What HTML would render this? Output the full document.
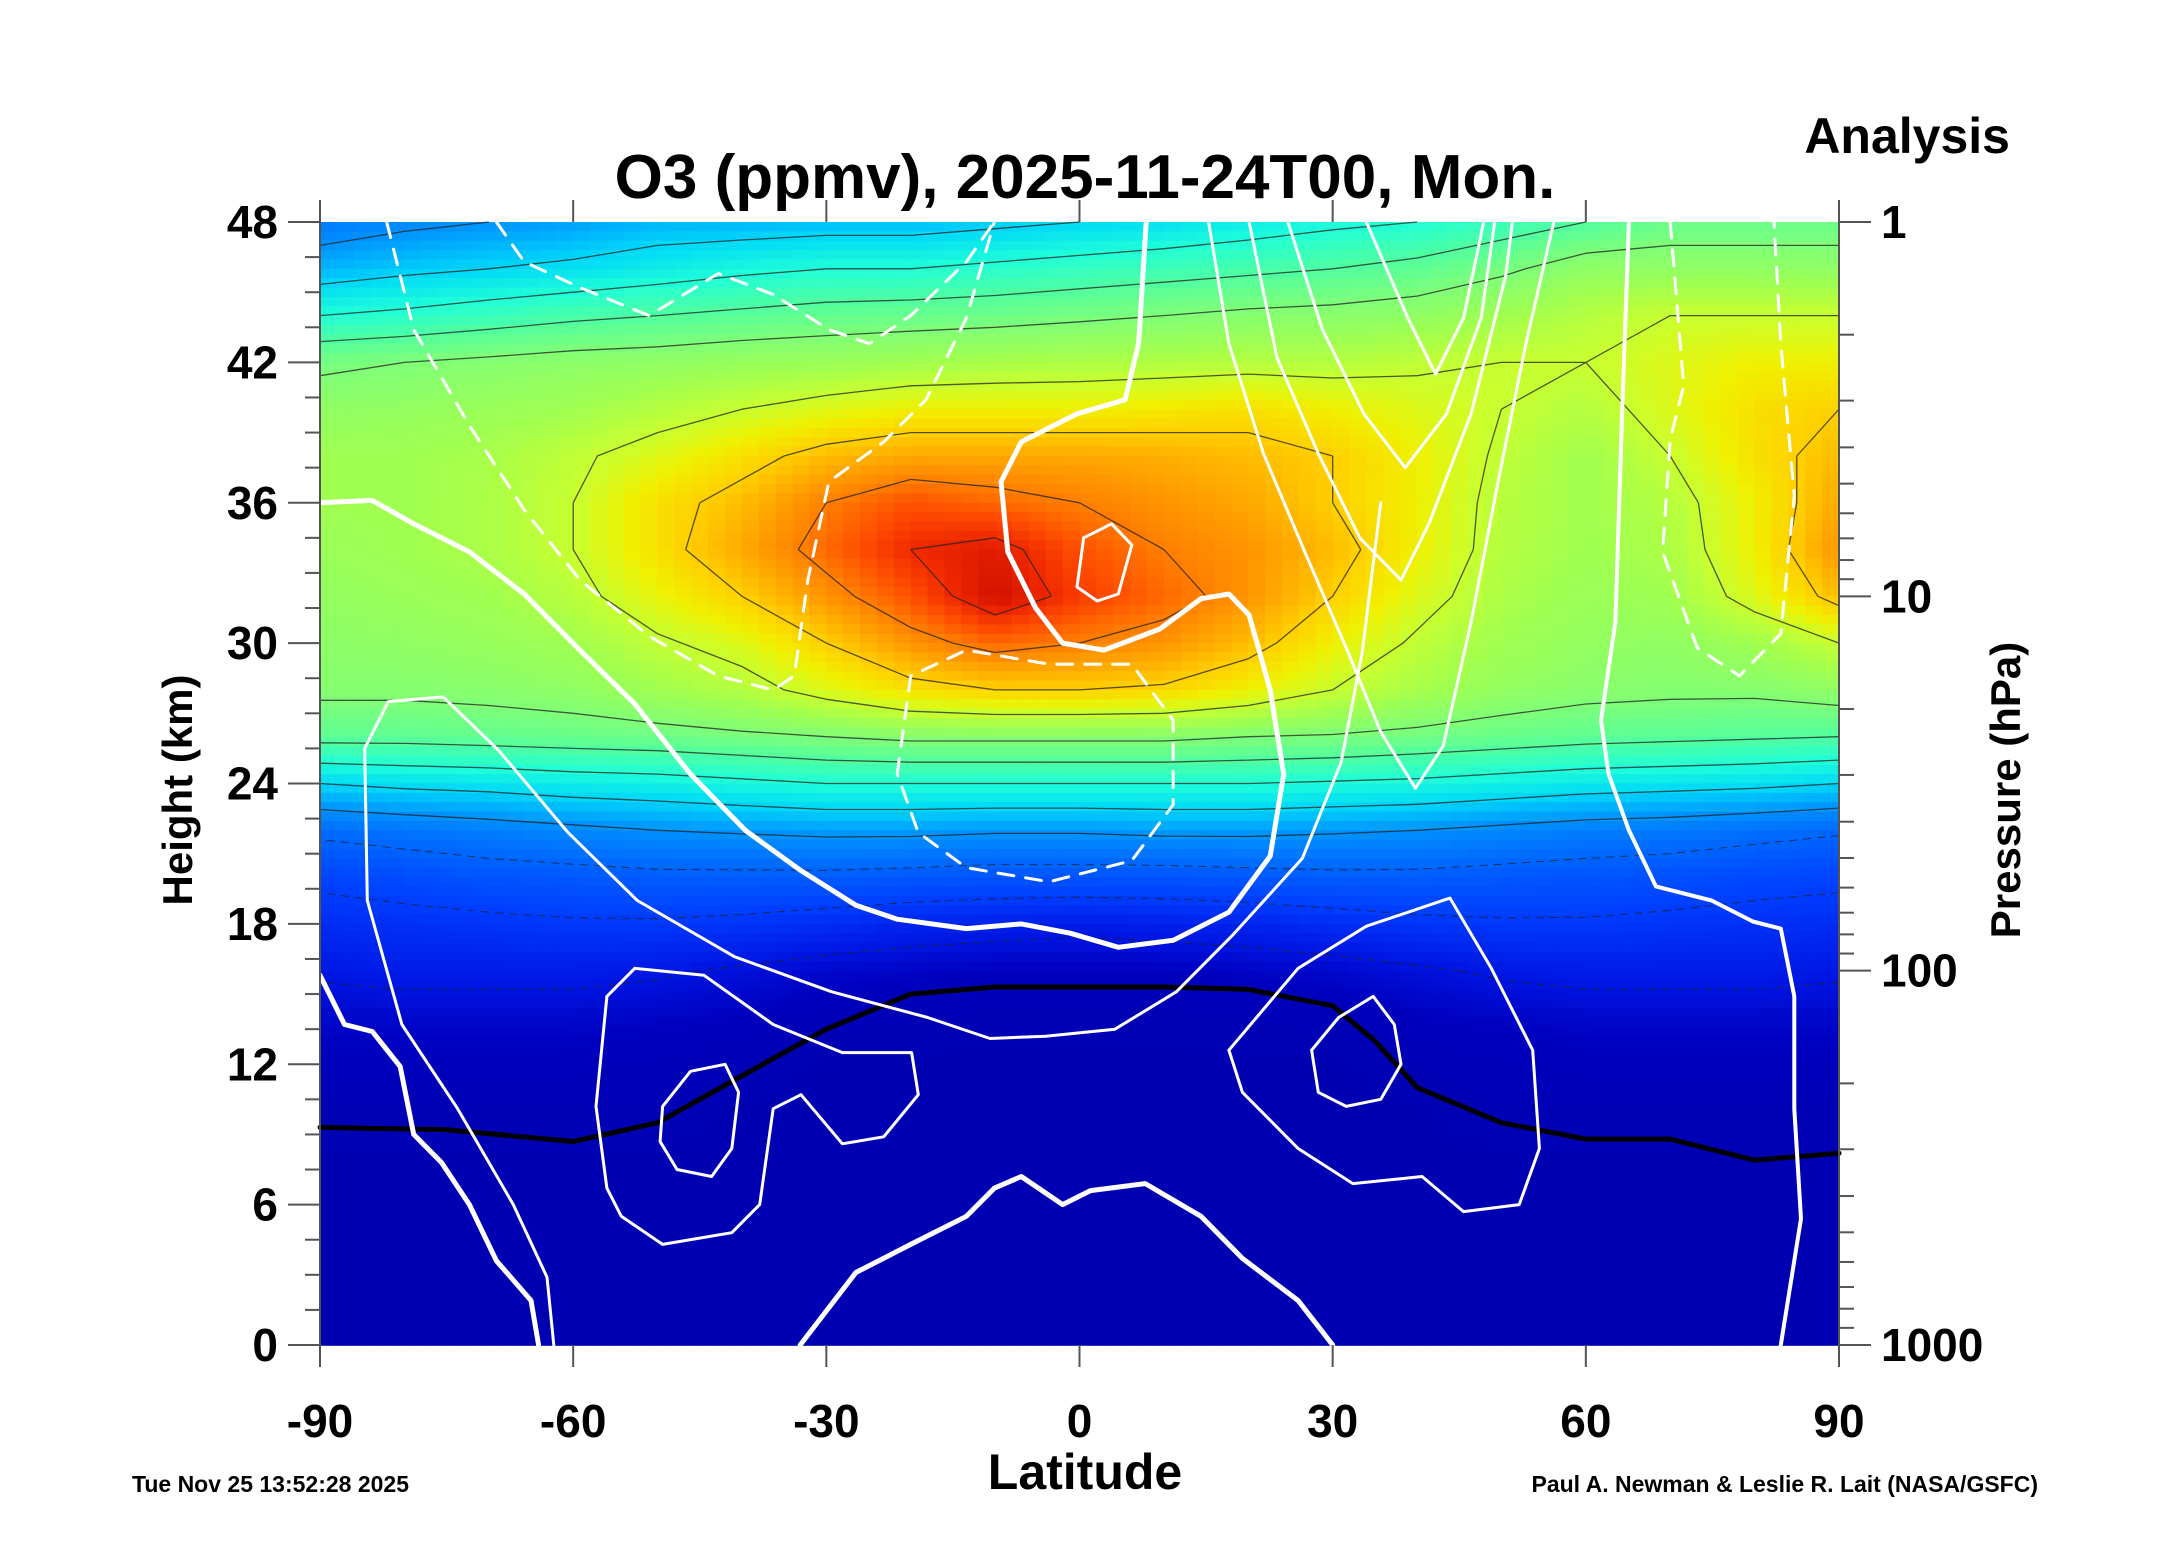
<!DOCTYPE html>
<html><head><meta charset="utf-8"><style>
html,body{margin:0;padding:0;background:#fff;}
svg{display:block;font-family:"Liberation Sans",Arial,sans-serif;font-weight:bold;}
</style></head><body>
<svg id="chart" width="2165" height="1561" viewBox="0 0 2165 1561" xmlns="http://www.w3.org/2000/svg">
<rect width="2165" height="1561" fill="#fff"/>
<g id="field"></g>
<g id="ozcont"></g>
<g id="tropo"></g>
<g id="winds"></g>
<g id="axes"></g>
<text x="1085" y="198" font-size="62" text-anchor="middle">O3 (ppmv), 2025-11-24T00, Mon.</text>
<text x="2010" y="153" font-size="50" text-anchor="end">Analysis</text>
<text x="1085" y="1489" font-size="50" text-anchor="middle">Latitude</text>
<text transform="translate(192,790) rotate(-90)" font-size="42" text-anchor="middle">Height (km)</text>
<text transform="translate(2020,790) rotate(-90)" font-size="42" text-anchor="middle">Pressure (hPa)</text>
<text x="132" y="1492" font-size="23">Tue Nov 25 13:52:28 2025</text>
<text x="2038" y="1492" font-size="23" text-anchor="end">Paul A. Newman &amp; Leslie R. Lait (NASA/GSFC)</text>
</svg>
<script>
const lats=[-90,-80,-70,-60,-50,-40,-30,-20,-10,0,10,20,30,40,50,60,70,80,90];
const heights=[48,46,44,42,40,38,36,34,32,30,28,26,24,22,20,18,16,14,12,10,8,6,4,2,0];
const ozone=[
[3.5,3.8,4,4.2,4.5,4.5,4.6,4.6,4.8,5,5.2,5.5,5.8,6,6.5,7,7.5,7.5,7.5],
[4.5,4.8,5,5.2,5.5,5.8,6,6,6.2,6.4,6.6,6.8,7,7.3,7.8,8.5,8.5,8.5,8.5],
[6,6.2,6.5,6.8,7,7.2,7.4,7.5,7.6,7.8,8,8.2,8.3,8.5,9,9.5,10,10,10],
[7.8,8,8.2,8.4,8.5,8.7,8.8,9,9.2,9.3,9.4,9.5,9.5,9.8,10,10,10.5,11,11],
[8.5,8.6,8.8,9,9.5,10,10.5,11,11,11,11.2,11.5,11,10.5,10,9.5,10.5,11.5,12],
[9,9,9.2,9.8,10.5,11.5,12.5,13,13,13,12.8,12.5,12,11,9.8,9,10,11.5,12.5],
[9,9,9.3,10,11.5,12.5,14,15,14.5,14,13.5,13,12,11,9.6,9,9.5,11,13],
[8.8,9,9.3,10,11.5,13,14.5,16,16.5,15,14,13.5,12.5,11,9.5,9,9.3,11,13.5],
[8.6,8.8,9,9.6,10.8,12,13.5,15,17,15.5,14.5,13.5,12,10.5,9.3,8.8,9,10.5,12.5],
[8.4,8.5,8.7,9,9.8,10.5,12,13.5,14.5,14,13.5,12.5,11,9.8,9,8.6,8.5,9,10],
[8.2,8.2,8.3,8.5,9,9.5,10.5,11.5,12,12,11.8,11,10,9.2,8.6,8.3,8.2,8.2,8.5],
[7.3,7.3,7.4,7.5,7.6,7.8,8,8.2,8.2,8.2,8.2,8,7.9,7.7,7.5,7.3,7.2,7.1,7],
[5,5.2,5.3,5.5,5.6,5.8,6,6,6,6,6,6,5.9,5.8,5.6,5.4,5.3,5.2,5],
[3.2,3.4,3.6,3.8,4,4.1,4.2,4.2,4.1,4.1,4.2,4.2,4.1,4,3.8,3.6,3.5,3.3,3.1],
[2.2,2.4,2.6,2.7,2.8,2.8,2.8,2.7,2.6,2.6,2.6,2.7,2.8,2.8,2.7,2.6,2.5,2.3,2.2],
[1.6,1.7,1.8,1.9,1.9,1.8,1.6,1.4,1.3,1.2,1.3,1.4,1.6,1.8,1.9,1.9,1.8,1.7,1.6],
[1.1,1.2,1.2,1.2,1.1,0.9,0.7,0.6,0.5,0.5,0.5,0.6,0.7,0.9,1.1,1.2,1.2,1.2,1.1],
[0.7,0.7,0.7,0.7,0.6,0.5,0.3,0.2,0.15,0.15,0.15,0.2,0.3,0.5,0.6,0.7,0.7,0.7,0.7],
[0.4,0.4,0.4,0.4,0.3,0.2,0.1,0.1,0.1,0.1,0.1,0.1,0.1,0.2,0.3,0.4,0.4,0.4,0.4],
[0.2,0.2,0.2,0.2,0.2,0.1,0.1,0.1,0.1,0.1,0.1,0.1,0.1,0.1,0.2,0.2,0.2,0.2,0.2],
[0.1,0.1,0.1,0.1,0.1,0.1,0.1,0.1,0.1,0.1,0.1,0.1,0.1,0.1,0.1,0.1,0.1,0.1,0.1],
[0.1,0.1,0.1,0.1,0.1,0.1,0.1,0.1,0.1,0.1,0.1,0.1,0.1,0.1,0.1,0.1,0.1,0.1,0.1],
[0.1,0.1,0.1,0.1,0.1,0.1,0.1,0.1,0.1,0.1,0.1,0.1,0.1,0.1,0.1,0.1,0.1,0.1,0.1],
[0.1,0.1,0.1,0.1,0.1,0.1,0.1,0.1,0.1,0.1,0.1,0.1,0.1,0.1,0.1,0.1,0.1,0.1,0.1],
[0.1,0.1,0.1,0.1,0.1,0.1,0.1,0.1,0.1,0.1,0.1,0.1,0.1,0.1,0.1,0.1,0.1,0.1,0.1]];
const contourLevels=[1,2,3,4,5,6,7,8,10,12,14,16];
const tropoLats=[-90,-75,-60,-50,-40,-30,-20,-10,0,10,20,30,35,40,50,60,70,80,90];
const tropoHeights=[9.3,9.2,8.7,9.5,11.5,13.5,15,15.3,15.3,15.3,15.2,14.5,13,11,9.5,8.8,8.8,7.9,8.2];
const wind0Main=[[-90,36],[-83.8,36.1],[-78.9,35.1],[-72.3,33.9],[-65.8,32.1],[-59.2,29.7],[-52.7,27.4],[-46.1,24.4],[-39.6,22],[-33.1,20.3],[-26.5,18.8],[-21.6,18.2],[-13.4,17.8],[-6.9,18],[-1.1,17.6],[4.6,17],[11.1,17.3],[17.7,18.5],[22.6,20.9],[24.2,24.4],[22.6,28],[20.1,31.2],[17.7,32.1],[14.4,31.9],[9.5,30.6],[2.9,29.7],[-2,30],[-5.2,31.5],[-8.5,33.9],[-9.3,36.9],[-6.9,38.6],[-0.3,39.8],[5.4,40.4],[7,42.8],[7.9,48]];
const wind0Left=[[-90,15.8],[-87.1,13.7],[-83.8,13.4],[-80.5,11.9],[-78.9,9],[-75.6,7.8],[-72.3,6],[-69.1,3.6],[-65,1.9],[-64.1,0]];
const wind0Center=[[-33.1,0],[-26.5,3.1],[-20,4.3],[-13.4,5.5],[-10.1,6.7],[-6.9,7.2],[-2,6],[1.3,6.6],[7.8,6.9],[14.4,5.5],[19.3,3.7],[25.9,1.9],[30,0]];
const wind0Right=[[65.1,48],[64.3,39.8],[63.5,30.9],[61.8,26.7],[62.7,24.4],[65.1,22],[68.3,19.6],[74.9,19],[79.8,18.1],[83.1,17.8],[84.7,14.9],[84.7,10.1],[85.5,5.4],[83.1,0]];
const windLeftJet=[[-49.4,10.2],[-46.1,11.7],[-42,12],[-40.4,10.8],[-41.2,8.4],[-43.6,7.2],[-47.7,7.5],[-49.7,8.7],[-49.4,10.2]];
const windRightJet=[[27.5,12.6],[30.7,14],[34.8,14.9],[37.3,13.7],[38.1,12],[35.7,10.5],[31.6,10.2],[28.3,10.8],[27.5,12.6]];
const windLeft20=[[-56,14.9],[-52.7,16.1],[-44.5,15.8],[-36.3,13.7],[-28.1,12.5],[-19.9,12.5],[-19.1,10.7],[-23.2,8.9],[-28.1,8.6],[-33,10.7],[-36.3,10.1],[-37.9,6],[-41.2,4.8],[-49.4,4.3],[-54.3,5.5],[-56,6.7],[-57.3,10.2],[-56,14.9]];
const windRight20=[[17.7,12.6],[25.9,16.1],[34,17.9],[43.9,19.1],[48.8,16.1],[53.7,12.6],[54.5,8.4],[52.1,6],[45.5,5.7],[40.6,7.2],[32.4,6.9],[25.9,8.4],[19.3,10.8],[17.7,12.6]];
const windOuterLeft=[[-62.3,0],[-63.1,2.9],[-67.1,6],[-73.7,10.1],[-80.3,13.7],[-84.4,19],[-84.7,25.5],[-81.9,27.5],[-75.4,27.7],[-68.8,25.4],[-60.6,21.9],[-52.4,19],[-40.9,16.6],[-29.4,15.1],[-18,14],[-10.6,13.1],[-4,13.2],[4.2,13.5],[11.5,15.1],[18.1,17.5],[26.4,20.8],[31,24.9],[33.5,29.6],[35.7,36]];
const windU20=[[15.3,48],[17.7,42.8],[21.8,38.1],[26.7,33.9],[31.6,29.8],[35.7,26.2],[39.8,23.8],[43.1,25.6],[46.4,30.9],[49.6,36.9],[52.9,42.8],[56.2,48]];
const windU40=[[20.1,48],[23.4,42.2],[28.3,38.1],[33.2,34.5],[38.1,32.7],[41.4,35.1],[46.4,39.8],[50.5,45.7],[51.3,48]];
const windU60=[[24.7,48],[28.8,43.4],[33.7,39.8],[38.6,37.5],[43.5,39.8],[47.6,43.9],[49.2,48]];
const windU80=[[34,48],[38.9,43.9],[42.2,41.5],[45.5,43.9],[47.9,48]];
const windCore20=[[0.5,34.5],[3.8,35.1],[6.2,34.2],[4.6,32.1],[2.1,31.8],[-0.3,32.4],[0.5,34.5]];
const windEast20=[[-21.6,24.4],[-20,28.6],[-13.4,29.7],[-3.6,29.1],[6.2,29.1],[11.1,26.7],[11.1,23.1],[6.2,20.7],[-3.6,19.8],[-13.4,20.4],[-19.1,21.9],[-21.6,24.4]];
const windEast0=[[-82.1,48],[-78.9,43.4],[-72.3,39.3],[-65.8,35.7],[-59.2,32.7],[-51,30.3],[-42.8,28.6],[-36.3,28],[-33.8,28.6],[-32.2,32.7],[-29.7,36.9],[-23.2,38.6],[-18.2,40.4],[-13.4,43.9],[-10.1,48]];
const windEastTop=[[-69.1,48],[-65.8,46.3],[-59.2,45.2],[-51,44],[-42.8,45.8],[-36.3,44.9],[-29.7,43.4],[-24.9,42.8],[-20,44],[-13.4,46.3],[-10.1,48]];
const windEastRight=[[70,48],[71.6,41],[70,38.7],[69.1,33.9],[73.2,29.8],[78.2,28.6],[83.1,30.4],[84.7,36.3],[83.1,42.8],[82.3,48]];
const leftTicks=[0,6,12,18,24,30,36,42,48];
const latTicks=[-90,-60,-30,0,30,60,90];
const presTicks=[1,10,100,1000];

const NS='http://www.w3.org/2000/svg';
const X0=320,X1=1839,Y0=1345,Y1=222;
const xs=lat=>X0+(lat+90)/180*(X1-X0);
const ys=h=>Y0-h/48*(Y0-Y1);
const yp=p=>Y1+Math.log10(p)/3*(Y0-Y1);
const stops=[[0,[0,0,176]],[0.5,[0,0,190]],[1,[0,20,225]],[2,[0,60,255]],[3,[0,100,255]],[4,[0,145,255]],[5,[0,216,248]],[6,[32,255,216]],[7,[80,255,160]],[8,[128,255,120]],[9,[160,255,80]],[10,[200,255,48]],[11,[240,240,0]],[12,[255,208,0]],[13,[255,168,0]],[14,[255,128,0]],[15,[255,80,0]],[16,[240,40,0]],[17,[208,16,0]]];
function col(v){
  if(v<=stops[0][0])return stops[0][1];
  for(let i=1;i<stops.length;i++){
    if(v<=stops[i][0]){const a=stops[i-1],b=stops[i];const t=(v-a[0])/(b[0]-a[0]);
      return a[1].map((c,k)=>Math.round(c+(b[1][k]-c)*t));}
  }
  return stops[stops.length-1][1];
}
const field=document.getElementById('field');
const SUB=5;
for(let r=0;r<heights.length-1;r++){
  for(let c=0;c<lats.length-1;c++){
    for(let i=0;i<SUB;i++){for(let j=0;j<SUB;j++){
      const tx=(j+0.5)/SUB,ty=(i+0.5)/SUB;
      const v=ozone[r][c]*(1-tx)*(1-ty)+ozone[r][c+1]*tx*(1-ty)+ozone[r+1][c]*(1-tx)*ty+ozone[r+1][c+1]*tx*ty;
      const xa=xs(lats[c]+(lats[c+1]-lats[c])*j/SUB),xb=xs(lats[c]+(lats[c+1]-lats[c])*(j+1)/SUB);
      const ya=ys(heights[r]+(heights[r+1]-heights[r])*i/SUB),yb=ys(heights[r]+(heights[r+1]-heights[r])*(i+1)/SUB);
      const rc=document.createElementNS(NS,'rect');
      
      
      rc.setAttribute('x',xa.toFixed(1));rc.setAttribute('y',ya.toFixed(1));
      rc.setAttribute('width',(xb-xa+0.8).toFixed(1));rc.setAttribute('height',(yb-ya+0.8).toFixed(1));
      rc.setAttribute('fill','rgb('+col(v).join(',')+')');
      field.appendChild(rc);
    }}
  }
}
// ozone contour lines (marching squares)
const oz=document.getElementById('ozcont');
contourLevels.forEach(L=>{
  let d='';
  for(let r=0;r<heights.length-1;r++){
    for(let c=0;c<lats.length-1;c++){
      const corners=[[lats[c],heights[r],ozone[r][c]],[lats[c+1],heights[r],ozone[r][c+1]],[lats[c+1],heights[r+1],ozone[r+1][c+1]],[lats[c],heights[r+1],ozone[r+1][c]]];
      const pts=[];
      for(let e=0;e<4;e++){
        const a=corners[e],b=corners[(e+1)%4];
        if((a[2]<L)!==(b[2]<L)){
          const t=(L-a[2])/(b[2]-a[2]);
          pts.push([a[0]+(b[0]-a[0])*t,a[1]+(b[1]-a[1])*t]);
        }
      }
      for(let k=0;k+1<pts.length;k+=2){
        d+='M'+xs(pts[k][0]).toFixed(1)+' '+ys(pts[k][1]).toFixed(1)+'L'+xs(pts[k+1][0]).toFixed(1)+' '+ys(pts[k+1][1]).toFixed(1);
      }
    }
  }
  const p=document.createElementNS(NS,'path');
  
  
  p.setAttribute('d',d);p.setAttribute('fill','none');p.setAttribute('stroke','#222');
  p.setAttribute('stroke-width',L<4?1:1.3);p.setAttribute('stroke-opacity',0.75);
  if(L<4)p.setAttribute('stroke-dasharray','8 6');
  oz.appendChild(p);
});
function line(parent,pts,name,stroke,w,dash){
  const p=document.createElementNS(NS,'polyline');
  
  
  p.setAttribute('points',pts.map(q=>xs(q[0]).toFixed(1)+','+ys(q[1]).toFixed(1)).join(' '));
  p.setAttribute('fill','none');p.setAttribute('stroke',stroke);p.setAttribute('stroke-width',w);
  p.setAttribute('stroke-linejoin','round');p.setAttribute('stroke-linecap','round');
  if(dash)p.setAttribute('stroke-dasharray',dash);
  parent.appendChild(p);
}
line(document.getElementById('tropo'),tropoLats.map((l,i)=>[l,tropoHeights[i]]),'tropopause-line','#000',5);
const winds=document.getElementById('winds');
line(winds,wind0Main,'wind-zero-contour','#fff',5);
line(winds,wind0Left,'wind-zero-contour-left','#fff',5);
line(winds,wind0Center,'wind-zero-contour-center','#fff',5);
line(winds,wind0Right,'wind-zero-contour-right','#fff',4);
[windLeftJet,windRightJet,windLeft20,windRight20,windOuterLeft,windU20,windU40,windU60,windU80,windCore20].forEach(w=>line(winds,w,'westerly-contour','#fff',3));
[windEast20,windEast0,windEastTop,windEastRight].forEach(w=>line(winds,w,'easterly-contour','#fff',3,'16 12'));
const axes=document.getElementById('axes');
function seg(x1,y1,x2,y2,name){
  const l=document.createElementNS(NS,'line');
  
  
  l.setAttribute('x1',x1);l.setAttribute('y1',y1);l.setAttribute('x2',x2);l.setAttribute('y2',y2);
  l.setAttribute('stroke','#555');l.setAttribute('stroke-width',2);axes.appendChild(l);
}
function txt(x,y,s,anchor,size,name){
  const t=document.createElementNS(NS,'text');
  
  
  t.setAttribute('x',x);t.setAttribute('y',y);t.setAttribute('text-anchor',anchor);t.setAttribute('font-size',size);
  t.textContent=s;axes.appendChild(t);
}
seg(X0,Y1-22,X0,Y0+22,'left-axis-line');
seg(X1,Y1-22,X1,Y0+22,'right-axis-line');
for(let h=0;h<=48;h+=1.5){const major=leftTicks.includes(h);seg(major?X0-32:X0-15,ys(h),X0,ys(h),'left-tick');}
leftTicks.forEach(h=>txt(X0-42,ys(h)+16,String(h),'end',46,'left-tick-label'));
latTicks.forEach(l=>{seg(xs(l),Y1-22,xs(l),Y1,'top-tick');seg(xs(l),Y0,xs(l),Y0+22,'bottom-tick');txt(xs(l),1437,String(l),'middle',46,'x-tick-label');});
for(let d=1;d<=1000;d*=10){for(let m=1;m<10;m++){const p=d*m;if(p>1000)break;seg(X1,yp(p),X1+(m===1?32:15),yp(p),'right-tick');}}
presTicks.forEach(p=>txt(X1+42,yp(p)+16,String(p),'start',46,'right-tick-label'));
</script>
</body></html>
